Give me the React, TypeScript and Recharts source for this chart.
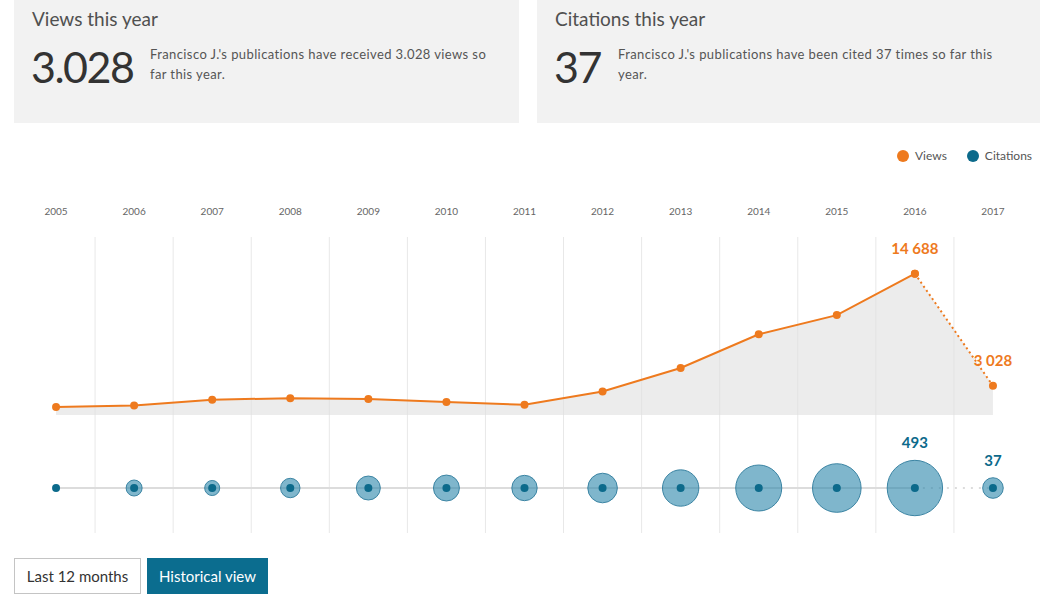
import React from "react";
import {
  Area,
  CartesianGrid,
  ComposedChart,
  LabelList,
  Line,
  Scatter,
  XAxis,
  YAxis,
  ZAxis,
} from "recharts";

const years = ["2005", "2006", "2007", "2008", "2009", "2010", "2011", "2012", "2013", "2014", "2015", "2016", "2017"];
const views = [830, 990, 1580, 1750, 1650, 1340, 1060, 2440, 4880, 8390, 10380, 14688, 3028];
const citations = [0, 8, 3, 29, 63, 80, 75, 115, 192, 329, 371, 493, 37];
const labelledYears = ["2016", "2017"];
const currentYear = "2017";

const ORANGE = "#ee7a1e";
const TEAL = "#0c6a8b";
const FONT = "Lato, 'Open Sans', sans-serif";

const rows = years.map((year, i) => {
  const isCurrent = year === currentYear;
  const beforeCurrent = years[i + 1] === currentYear;
  return {
    year,
    views: views[i],
    citations: citations[i],
    lane: 0,
    viewsSolid: isCurrent ? null : views[i],
    viewsTail: isCurrent || beforeCurrent ? views[i] : null,
    laneSolid: isCurrent ? null : 0,
    laneTail: isCurrent || beforeCurrent ? 0 : null,
  };
});

const fmt = (v: number) => v.toLocaleString("en-US").replace(/,/g, " ");

function ViewLabel(props: any) {
  const { x, y, index, value } = props;
  if (!labelledYears.includes(years[index])) return null;
  return (
    <text x={x} y={y - 20} textAnchor="middle" fill={ORANGE} fontSize={15} fontWeight={700} fontFamily={FONT}>
      {fmt(Number(value))}
    </text>
  );
}

function Bubble(props: any) {
  const { cx, cy, width, payload } = props;
  const r = width / 2;
  return (
    <g>
      {payload.citations > 0 && (
        <circle cx={cx} cy={cy} r={r} fill="#2a86aa" fillOpacity={0.6} stroke="#3b84a3" strokeWidth={1} />
      )}
      <circle cx={cx} cy={cy} r={4} fill={TEAL} />
      {labelledYears.includes(payload.year) && (
        <text x={cx} y={cy - r - 12} textAnchor="middle" fill={TEAL} fontSize={15} fontWeight={700} fontFamily={FONT}>
          {fmt(payload.citations)}
        </text>
      )}
    </g>
  );
}

// grid lines sit between the year columns, not on them
function bandEdges({ xAxis, offset }: any) {
  const scale = xAxis && xAxis.scale;
  if (typeof scale === "function" && typeof scale.bandwidth === "function") {
    return years.slice(1).map((y) => scale(y));
  }
  return years.slice(1).map((_, i) => offset.left + ((i + 1) * offset.width) / years.length);
}

function StatCard({ left, title, value, text, textLeft, textWidth }: any) {
  return (
    <div style={{ position: "absolute", left, top: 0, width: 505, height: 123, background: "#f2f2f2" }}>
      <div style={{ position: "absolute", left: 18, top: 7, fontSize: 19, color: "#505050" }}>{title}</div>
      <div style={{ position: "absolute", left: 17, top: 41, fontSize: 43, letterSpacing: -1.5, color: "#333", lineHeight: "52px" }}>
        {value}
      </div>
      <div style={{ position: "absolute", left: textLeft, top: 44, width: textWidth, fontSize: 13, letterSpacing: 0.4, lineHeight: "20px", color: "#555" }}>
        {text}
      </div>
    </div>
  );
}

export default function App() {
  return (
    <div style={{ position: "absolute", left: 0, top: 0, width: 1040, height: 600, background: "#fff", fontFamily: FONT, overflow: "hidden" }}>
      <StatCard
        left={14}
        title="Views this year"
        value="3.028"
        textLeft={136}
        textWidth={345}
        text="Francisco J.'s publications have received 3.028 views so far this year."
      />
      <StatCard
        left={537}
        title="Citations this year"
        value="37"
        textLeft={81}
        textWidth={390}
        text="Francisco J.'s publications have been cited 37 times so far this year."
      />

      <div style={{ position: "absolute", left: 897, top: 148, display: "flex", alignItems: "center", fontSize: 12, color: "#555" }}>
        <span style={{ width: 12, height: 12, borderRadius: 6, background: ORANGE, marginRight: 6 }} />
        <span style={{ marginRight: 20 }}>Views</span>
        <span style={{ width: 12, height: 12, borderRadius: 6, background: TEAL, marginRight: 6 }} />
        <span>Citations</span>
      </div>

      <div style={{ position: "absolute", left: 0, top: 180 }}>
        <ComposedChart width={1040} height={353} data={rows} margin={{ top: 17, right: 8, left: 17, bottom: 0 }}>
          <CartesianGrid
            yAxisId="views"
            horizontal={false}
            stroke="#e8e8e8"
            verticalCoordinatesGenerator={bandEdges}
          />
          <XAxis
            dataKey="year"
            orientation="top"
            scale="band"
            height={40}
            axisLine={false}
            tickLine={false}
            tickMargin={16}
            interval={0}
            tick={{ fontSize: 10, fill: "#666", fontFamily: FONT }}
          />
          <YAxis yAxisId="views" hide domain={[-12270, 18500]} allowDataOverflow />
          <YAxis yAxisId="cit" hide domain={[-1, 5.58]} allowDataOverflow />
          <ZAxis dataKey="citations" range={[164, 2410]} domain={[0, "dataMax"]} />

          <Area
            yAxisId="views"
            type="linear"
            dataKey="views"
            stroke="none"
            fill="#e0e0e0"
            fillOpacity={0.6}
            baseValue={0}
            isAnimationActive={false}
          >
            <LabelList dataKey="views" content={ViewLabel} />
          </Area>
          <Line
            yAxisId="views"
            type="linear"
            dataKey="viewsTail"
            stroke={ORANGE}
            strokeWidth={2}
            strokeDasharray="2 3"
            dot={{ r: 4, fill: ORANGE, strokeWidth: 0 }}
            activeDot={false}
            isAnimationActive={false}
          />
          <Line
            yAxisId="views"
            type="linear"
            dataKey="viewsSolid"
            stroke={ORANGE}
            strokeWidth={2}
            dot={{ r: 4, fill: ORANGE, strokeWidth: 0 }}
            activeDot={false}
            isAnimationActive={false}
          />

          <Line
            yAxisId="cit"
            type="linear"
            dataKey="laneSolid"
            stroke="#dcdcdc"
            strokeWidth={2}
            dot={false}
            activeDot={false}
            isAnimationActive={false}
          />
          <Line
            yAxisId="cit"
            type="linear"
            dataKey="laneTail"
            stroke="#dcdcdc"
            strokeWidth={2}
            strokeDasharray="2 6"
            dot={false}
            activeDot={false}
            isAnimationActive={false}
          />
          <Scatter yAxisId="cit" dataKey="lane" shape={Bubble} isAnimationActive={false} />
        </ComposedChart>
      </div>

      <div style={{ position: "absolute", left: 14, top: 558, display: "flex", fontSize: 15 }}>
        <div style={{ width: 125, height: 34, border: "1px solid #c4c4c4", color: "#333", display: "flex", alignItems: "center", justifyContent: "center", background: "#fff" }}>
          Last 12 months
        </div>
        <div style={{ marginLeft: 6, width: 121, height: 36, background: "#0b6d8f", color: "#fff", display: "flex", alignItems: "center", justifyContent: "center" }}>
          Historical view
        </div>
      </div>
    </div>
  );
}
